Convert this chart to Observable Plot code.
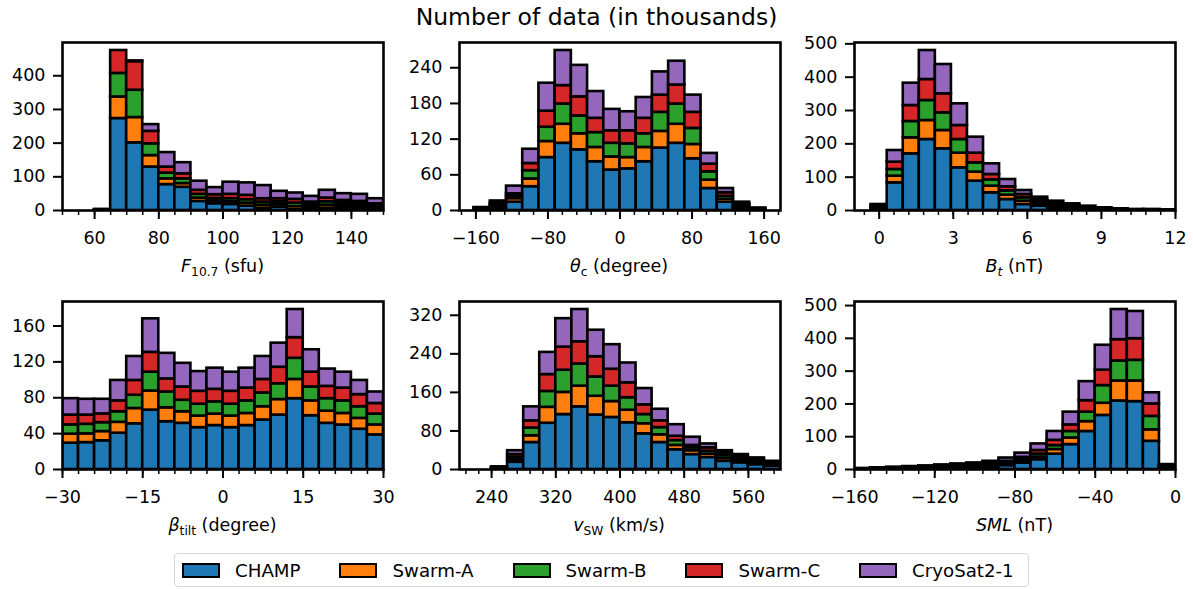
<!DOCTYPE html>
<html>
<head>
<meta charset="utf-8">
<script src="https://cdn.jsdelivr.net/npm/d3@7"></script>
<script src="https://cdn.jsdelivr.net/npm/@observablehq/plot@0.6"></script>
<style>
  body { margin: 0; background: #fff; }
  #fig { position: relative; width: 1193px; height: 589px; background: #fff; overflow: hidden;
         font-family: "DejaVu Sans", sans-serif; color: #000; }
  #title { position: absolute; left: 0; top: 3px; width: 1193px; text-align: center; font-size: 23.5px; line-height: 28px; }
  .panel { position: absolute; }
  .xlabel { position: absolute; font-size: 17.5px; line-height: 20px; white-space: nowrap; transform: translateX(-50%); }
  .xlabel sub { font-size: 0.7em; vertical-align: -0.32em; line-height: 0; }
  .legend { position: absolute; left: 174px; top: 553px; height: 34px; box-sizing: border-box;
            border: 1.5px solid #d6d6d6; border-radius: 4px; display: flex; align-items: center;
            padding: 0 14px 0 7px; gap: 39px; font-size: 18.2px; background: #fff; }
  .legend .item { display: flex; align-items: center; }
  .legend .sw { width: 38px; height: 15px; box-sizing: border-box; border: 2px solid #000; margin-right: 15px; }
</style>
</head>
<body>
<div id="fig">
  <div id="title">Number of data (in thousands)</div>
</div>
<script>
// Satellites stacked in every histogram (bottom to top)
const seriesNames = ["CHAMP", "Swarm-A", "Swarm-B", "Swarm-C", "CryoSat2-1"];
const seriesColors = ["#1f77b4", "#ff7f0e", "#2ca02c", "#d62728", "#9467bd"];

// F10.7 (sfu): bin edges and counts (thousands), one row per satellite
const f107Edges = [60, 65, 70, 75, 80, 85, 90, 95, 100, 105, 110, 115, 120, 125, 130, 135, 140, 145, 150];
const f107Counts = [
  [1, 273, 201, 129, 77, 69, 27, 20, 18, 13, 7, 10, 3, 3, 7, 7, 7, 3],
  [0.5, 64, 75, 34, 17, 11, 10, 8, 8, 9, 9, 8, 9, 7, 9, 7, 6, 5],
  [0.5, 70, 81, 35, 17, 14, 11, 8, 9, 10, 9, 8, 10, 7, 10, 8, 7, 6],
  [0.5, 68, 85, 37, 18, 15, 12, 11, 13, 13, 10, 9, 11, 8, 11, 8, 7, 6],
  [0.5, 0, 2, 20, 43, 33, 27, 21, 36, 37, 39, 22, 19, 17, 23, 20, 21, 15]
];
const f107Ticks = [60, 80, 100, 120, 140];
const f107YTicks = [0, 100, 200, 300, 400];

// IMF clock angle theta_c (degree)
const thetaEdges = [-162, -144, -126, -108, -90, -72, -54, -36, -18, 0, 18, 36, 54, 72, 90, 108, 126, 144, 162];
const thetaCounts = [
  [1, 3, 14, 40, 89, 113, 102, 82, 68, 70, 82, 105, 113, 87, 37, 14, 3, 1],
  [1, 3, 6, 13, 27, 32, 27, 24, 22, 19, 24, 28, 32, 24, 14, 5, 3, 1],
  [1, 3, 4, 14, 24, 34, 30, 25, 23, 23, 23, 32, 34, 27, 14, 5, 3, 1],
  [1, 3, 4, 12, 27, 31, 32, 24, 21, 22, 26, 29, 32, 27, 13, 6, 2, 0.5],
  [1, 4, 13, 24, 47, 59, 53, 45, 36, 32, 35, 39, 40, 29, 18, 7, 3, 0.5]
];
const thetaTicks = [-160, -80, 0, 80, 160];
const thetaYTicks = [0, 60, 120, 180, 240];

// IMF transverse component B_t (nT)
const btEdges = [-0.325, 0.325, 0.975, 1.625, 2.275, 2.925, 3.575, 4.225, 4.875, 5.525, 6.175, 6.825, 7.475, 8.125, 8.775, 9.425, 10.075, 10.725, 11.375, 12.025];
const btCounts = [
  [5, 83, 170, 213, 185, 128, 88, 53, 33, 18, 13, 7, 5, 3, 2, 1, 0.6, 0.6, 0.4],
  [4, 20, 48, 57, 55, 44, 27, 20, 13, 10, 6, 5, 4, 3, 2, 1, 0.6, 0.6, 0.4],
  [3, 20, 49, 60, 53, 41, 28, 19, 13, 10, 6, 5, 4, 2, 1, 1, 0.6, 0.6, 0.4],
  [3, 22, 48, 63, 57, 42, 29, 16, 12, 10, 7, 5, 3, 2, 1, 1, 0.6, 0.6, 0.4],
  [3, 35, 67, 87, 88, 65, 48, 32, 22, 12, 8, 6, 4, 3, 2, 1, 0.6, 0.6, 0.4]
];
const btTicks = [0, 3, 6, 9, 12];
const btYTicks = [0, 100, 200, 300, 400, 500];

// Dipole tilt angle beta_tilt (degree)
const tiltEdges = [-30, -27, -24, -21, -18, -15, -12, -9, -6, -3, 0, 3, 6, 9, 12, 15, 18, 21, 24, 27, 30];
const tiltCounts = [
  [29.4, 30, 32, 40.5, 51, 66.2, 53.3, 51.5, 46.7, 49, 46.7, 49, 55.2, 60.7, 79, 60, 51.5, 49.6, 44.9, 38.6],
  [10, 9.7, 10.3, 12.1, 17, 21.3, 15.5, 12.9, 12.9, 12.8, 12.9, 13.5, 14.8, 17.3, 21.4, 16.5, 13.5, 12.9, 12.1, 11.1],
  [10.3, 10.7, 9.9, 11.8, 14.8, 21, 17.6, 12.8, 13.2, 13.6, 13.2, 14, 15.3, 17.6, 23.6, 15.5, 14, 14, 13, 12.1],
  [11, 10.3, 9.8, 12.1, 16.5, 22.1, 14.6, 14.8, 14.4, 14, 14.4, 14.3, 15.1, 18.4, 23, 16.5, 13.7, 14.3, 13.5, 11.8],
  [18.3, 17.6, 16.3, 22.8, 26.7, 37.4, 28.5, 26.4, 22, 23.6, 21.3, 22.2, 25.6, 26.9, 31.4, 25, 19.3, 17.7, 15.8, 12.8]
];
const tiltTicks = [-30, -15, 0, 15, 30];
const tiltYTicks = [0, 40, 80, 120, 160];

// Solar wind speed v_SW (km/s)
const vswEdges = [240, 260, 280, 300, 320, 340, 360, 380, 400, 420, 440, 460, 480, 500, 520, 540, 560, 580, 600];
const vswCounts = [
  [1.5, 15, 56, 96, 114, 130, 113, 108, 97, 74, 56, 41, 31, 25, 17, 14, 10, 7],
  [1, 5, 14, 33, 46, 43, 39, 33, 26, 21, 16, 9, 8, 7, 6, 4, 3, 2],
  [1, 5, 16, 33, 46, 46, 40, 32, 26, 19, 15, 10, 6, 6, 6, 4, 3, 2],
  [1, 6, 15, 35, 48, 46, 42, 35, 31, 20, 14, 9, 5, 7, 5, 4, 4, 3],
  [1, 8, 29, 46, 59, 67, 55, 51, 41, 34, 24, 24, 17, 8, 5, 5, 4, 3]
];
const vswTicks = [240, 320, 400, 480, 560];
const vswYTicks = [0, 80, 160, 240, 320];

// SuperMAG SML index (nT)
const smlEdges = [-160, -152, -144, -136, -128, -120, -112, -104, -96, -88, -80, -72, -64, -56, -48, -40, -32, -24, -16, -8, 0];
const smlCounts = [
  [0.6, 1, 1.5, 2, 2.5, 3, 4, 5, 8, 12, 20, 30, 47, 76, 116, 165, 209, 207, 86, 5],
  [0.6, 1, 1.3, 1.7, 2, 2.7, 3.2, 3.7, 4, 5, 5, 8, 14, 20, 30, 37, 61, 63, 35, 3],
  [0.6, 1, 1.3, 1.7, 2, 2.7, 3.2, 3.7, 4, 4, 5, 9, 12, 20, 29, 54, 61, 63, 41, 2],
  [0.6, 1, 1.4, 1.8, 2.2, 2.8, 3.3, 3.8, 4, 4, 7, 11, 16, 20, 35, 47, 65, 66, 38, 2],
  [0.6, 1, 1.5, 1.8, 2.3, 2.8, 3.3, 3.8, 5, 10, 13, 20, 27, 39, 58, 76, 92, 83, 34, 3]
];
const smlTicks = [-160, -120, -80, -40, 0];
const smlYTicks = [0, 100, 200, 300, 400, 500];

// Panel grid: frame size in px and frame origins
const frameW = 321, frameH = 168;
const colLeft = [62, 458.5, 854];
const rowTop = [42, 300.5];
const mL = 70, mR = 14, mT = 12, mB = 48;

const panels = [
  {edges: f107Edges, counts: f107Counts, xDomain: [50, 150], xTicks: f107Ticks, minorStep: 5, yTicks: f107YTicks,
   label: '<i>F</i><sub>10.7</sub> (sfu)'},
  {edges: thetaEdges, counts: thetaCounts, xDomain: [-178.2, 178.2], xTicks: thetaTicks, minorStep: 16, yTicks: thetaYTicks,
   label: '<i>θ</i><sub>c</sub> (degree)'},
  {edges: btEdges, counts: btCounts, xDomain: [-1, 12], xTicks: btTicks, minorStep: 0.6, yTicks: btYTicks,
   label: '<i>B</i><sub><i>t</i></sub> (nT)'},
  {edges: tiltEdges, counts: tiltCounts, xDomain: [-30, 30], xTicks: tiltTicks, minorStep: 3, yTicks: tiltYTicks,
   label: '<i>β</i><sub>tilt</sub> (degree)'},
  {edges: vswEdges, counts: vswCounts, xDomain: [200, 600], xTicks: vswTicks, minorStep: 16, yTicks: vswYTicks,
   label: '<i>v</i><sub>SW</sub> (km/s)'},
  {edges: smlEdges, counts: smlCounts, xDomain: [-160, 0], xTicks: smlTicks, minorStep: 8, yTicks: smlYTicks,
   label: '<i>SML</i> (nT)'}
];

const fmt = d => d < 0 ? "\u2212" + Math.abs(d) : String(d);
const fig = document.getElementById("fig");

panels.forEach((p, k) => {
  const col = k % 3, row = Math.floor(k / 3);
  const nBins = p.edges.length - 1;
  const rows = [];
  for (let i = 0; i < nBins; i++) {
    seriesNames.forEach((s, j) => rows.push({x1: p.edges[i], x2: p.edges[i + 1], series: s, value: p.counts[j][i]}));
  }
  const maxTotal = d3.max(d3.range(nBins), i => d3.sum(p.counts, c => c[i]));
  const [lo, hi] = p.xDomain;
  const minor = d3.range(Math.ceil(lo / p.minorStep - 1e-9), Math.floor(hi / p.minorStep + 1e-9) + 1)
    .map(n => +(n * p.minorStep).toFixed(6));

  const chart = Plot.plot({
    width: mL + frameW + mR,
    height: mT + frameH + mB,
    marginLeft: mL, marginRight: mR, marginTop: mT, marginBottom: mB,
    x: {domain: p.xDomain, label: null},
    y: {domain: [0, maxTotal * 1.05], label: null},
    color: {domain: seriesNames, range: seriesColors},
    style: {fontFamily: "DejaVu Sans", fontSize: "17.5px", color: "black", background: "transparent", overflow: "visible"},
    marks: [
      Plot.rectY(rows, {x1: "x1", x2: "x2", y: "value", fill: "series", order: seriesNames,
                        stroke: "black", strokeWidth: 2.6, clip: true}),
      Plot.frame({stroke: "black", strokeWidth: 2.6}),
      Plot.axisX({ticks: minor, tickSize: 5, strokeWidth: 1.5, tickFormat: () => "", label: null}),
      Plot.axisX({ticks: p.xTicks, tickSize: 9, tickPadding: 12, strokeWidth: 2, tickFormat: fmt, label: null}),
      Plot.axisY({ticks: p.yTicks, tickSize: 9, tickPadding: 8, strokeWidth: 2, tickFormat: fmt, label: null})
    ]
  });
  const holder = document.createElement("div");
  holder.className = "panel";
  holder.style.left = (colLeft[col] - mL) + "px";
  holder.style.top = (rowTop[row] - mT) + "px";
  holder.appendChild(chart);
  fig.appendChild(holder);

  const lab = document.createElement("div");
  lab.className = "xlabel";
  lab.innerHTML = p.label;
  lab.style.left = (colLeft[col] + frameW / 2) + "px";
  lab.style.top = (rowTop[row] + frameH + 46) + "px";
  fig.appendChild(lab);
});

// Legend below the grid
const legend = document.createElement("div");
legend.className = "legend";
seriesNames.forEach((s, j) => {
  const item = document.createElement("div");
  item.className = "item";
  const sw = document.createElement("span");
  sw.className = "sw";
  sw.style.background = seriesColors[j];
  const t = document.createElement("span");
  t.textContent = s;
  item.appendChild(sw);
  item.appendChild(t);
  legend.appendChild(item);
});
fig.appendChild(legend);
</script>
</body>
</html>
